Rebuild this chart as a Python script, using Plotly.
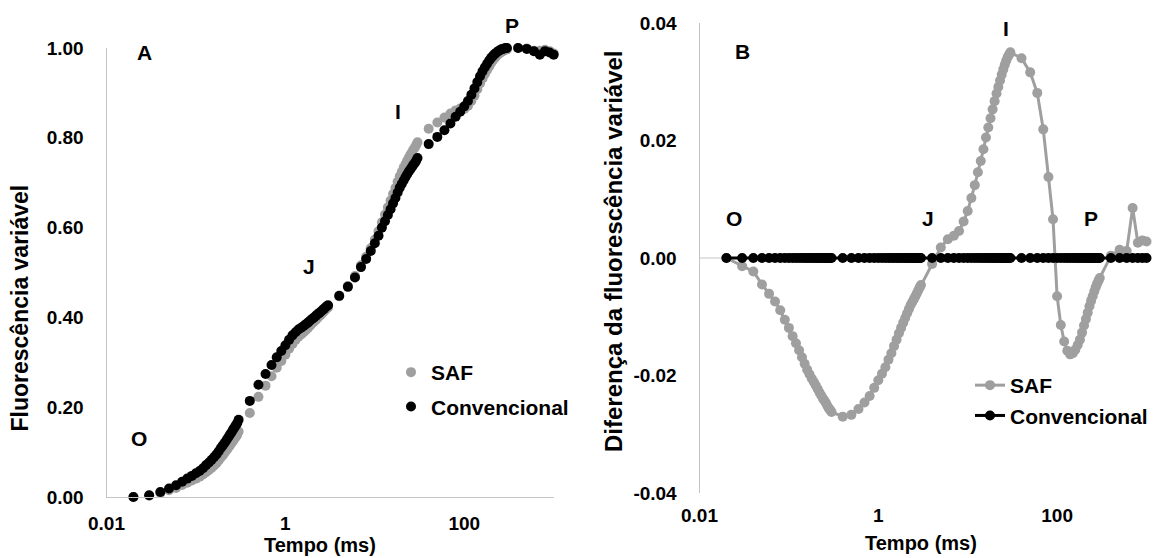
import plotly.graph_objects as go

# ---------------- data ----------------
tempo = [0.02, 0.03, 0.04, 0.05, 0.06, 0.07, 0.08, 0.09, 0.10, 0.11, 0.12, 0.13, 0.14, 0.15,
         0.16, 0.17, 0.18, 0.19, 0.20, 0.21, 0.22, 0.23, 0.24, 0.25, 0.26, 0.27, 0.28, 0.29, 0.30,
         0.4, 0.5, 0.6, 0.7, 0.8, 0.9, 1.0, 1.1, 1.2, 1.3, 1.4, 1.5, 1.6, 1.7, 1.8, 1.9, 2.0,
         2.1, 2.2, 2.3, 2.4, 2.5, 2.6, 2.7, 2.8, 2.9, 3.0,
         4, 5, 6, 7, 8, 9, 10, 11, 12, 13, 14, 15, 16, 17, 18, 19, 20, 21, 22, 23, 24, 25, 26,
         27, 28, 29, 30,
         40, 50, 60, 70, 80, 90, 100, 110, 120, 130, 140, 150, 160, 170, 180, 190, 200, 210,
         220, 230, 240, 250, 260, 270, 280, 290, 300,
         400, 500, 600, 700, 800, 900, 1000]

conv_a = [0.000, 0.004, 0.011, 0.019, 0.026, 0.034, 0.041, 0.047, 0.053, 0.058, 0.064, 0.071,
          0.077, 0.083, 0.089, 0.095, 0.102, 0.109, 0.115, 0.121, 0.127, 0.133, 0.139, 0.144,
          0.150, 0.155, 0.160, 0.165, 0.172,
          0.214, 0.250, 0.274, 0.294, 0.311, 0.325, 0.338, 0.350, 0.360, 0.367, 0.373, 0.377,
          0.381, 0.385, 0.389, 0.393, 0.397, 0.400, 0.404, 0.407, 0.410, 0.413, 0.416, 0.419,
          0.422, 0.425, 0.427,
          0.448, 0.468, 0.489, 0.512, 0.530, 0.548, 0.565, 0.582, 0.600, 0.614, 0.628, 0.641,
          0.654, 0.666, 0.678, 0.689, 0.697, 0.705, 0.712, 0.719, 0.725, 0.730, 0.735, 0.740,
          0.744, 0.749, 0.755,
          0.786, 0.802, 0.817, 0.832, 0.847, 0.858, 0.870, 0.882, 0.896, 0.910, 0.924, 0.937,
          0.948, 0.957, 0.965, 0.972, 0.978, 0.983, 0.987, 0.990, 0.993, 0.995, 0.997, 0.998,
          0.999, 1.000, 1.000,
          1.000, 0.998, 0.993, 0.985, 0.993, 0.990, 0.985]

saf_a = [0.000, 0.003, 0.009, 0.015, 0.020, 0.027, 0.032, 0.037, 0.041, 0.045, 0.050, 0.055,
         0.060, 0.065, 0.070, 0.075, 0.082, 0.088, 0.093, 0.099, 0.104, 0.110, 0.115, 0.120,
         0.125, 0.130, 0.134, 0.139, 0.146,
         0.187, 0.223, 0.248, 0.269, 0.288, 0.303, 0.317, 0.330, 0.341, 0.350, 0.357, 0.362,
         0.367, 0.372, 0.377, 0.382, 0.387, 0.391, 0.395, 0.399, 0.403, 0.406, 0.410, 0.413,
         0.417, 0.420, 0.422,
         0.447, 0.470, 0.492, 0.516, 0.535, 0.554, 0.573, 0.592, 0.612, 0.629, 0.645, 0.660,
         0.675, 0.688, 0.702, 0.714, 0.724, 0.733, 0.741, 0.749, 0.756, 0.762, 0.768, 0.774,
         0.778, 0.784, 0.790,
         0.820, 0.834, 0.845, 0.854, 0.861, 0.865, 0.864, 0.871, 0.882, 0.894, 0.908, 0.921,
         0.932, 0.942, 0.951, 0.959, 0.967, 0.973, 0.978, 0.982, 0.986, 0.989, 0.991, 0.993,
         0.995, 0.996, 0.997,
         1.000, 0.999, 0.994, 0.994, 0.996, 0.993, 0.988]

saf_diff = [0.0000, -0.0014, -0.0023, -0.0045, -0.0061, -0.0074, -0.0089, -0.0105, -0.0119,
            -0.0133, -0.0145, -0.0157, -0.0169, -0.0180, -0.0190, -0.0198, -0.0205, -0.0211,
            -0.0217, -0.0223, -0.0229, -0.0234, -0.0239, -0.0243, -0.0247, -0.0252, -0.0256,
            -0.0259, -0.0262,
            -0.0270, -0.0267, -0.0257, -0.0246, -0.0235, -0.0221, -0.0208, -0.0197, -0.0186,
            -0.0173, -0.0162, -0.0150, -0.0139, -0.0128, -0.0119, -0.0110, -0.0102, -0.0094,
            -0.0087, -0.0080, -0.0075, -0.0070, -0.0065, -0.0060, -0.0055, -0.0050, -0.0046,
            -0.0010, 0.0018, 0.0032, 0.0038, 0.0046, 0.0062, 0.0080, 0.0102, 0.0124, 0.0146,
            0.0165, 0.0185, 0.0205, 0.0222, 0.0238, 0.0253, 0.0267, 0.0280, 0.0291, 0.0302,
            0.0312, 0.0321, 0.0329, 0.0336, 0.0342, 0.0346, 0.0350,
            0.0340, 0.0316, 0.0281, 0.0219, 0.0138, 0.0066, -0.0065, -0.0114, -0.0142, -0.0158,
            -0.0164, -0.0162, -0.0156, -0.0148, -0.0139, -0.0127, -0.0115, -0.0104, -0.0093,
            -0.0082, -0.0073, -0.0065, -0.0057, -0.0050, -0.0044, -0.0039, -0.0034,
            0.0004, 0.0014, 0.0012, 0.0085, 0.0026, 0.0030, 0.0028]

conv_diff = [0.0, 0.0, 0.0, 0.0, 0.0, 0.0, 0.0, 0.0, 0.0, 0.0, 0.0, 0.0, 0.0, 0.0, 0.0,
             0.0, 0.0, 0.0, 0.0, 0.0, 0.0, 0.0, 0.0, 0.0, 0.0, 0.0, 0.0, 0.0, 0.0,
             0.0, 0.0, 0.0, 0.0, 0.0, 0.0, 0.0, 0.0, 0.0, 0.0, 0.0, 0.0, 0.0, 0.0, 0.0,
             0.0, 0.0, 0.0, 0.0, 0.0, 0.0, 0.0, 0.0, 0.0, 0.0, 0.0, 0.0,
             0.0, 0.0, 0.0, 0.0, 0.0, 0.0, 0.0, 0.0, 0.0, 0.0, 0.0, 0.0, 0.0, 0.0,
             0.0, 0.0, 0.0, 0.0, 0.0, 0.0, 0.0, 0.0, 0.0, 0.0, 0.0, 0.0, 0.0,
             0.0, 0.0, 0.0, 0.0, 0.0, 0.0, 0.0, 0.0, 0.0, 0.0, 0.0, 0.0, 0.0, 0.0,
             0.0, 0.0, 0.0, 0.0, 0.0, 0.0, 0.0, 0.0, 0.0, 0.0, 0.0, 0.0, 0.0,
             0.0, 0.0, 0.0, 0.0, 0.0, 0.0, 0.0]

x_tickvals = [0.01, 1, 100]
x_ticktext = ["0.01", "1", "100"]
ya_tickvals = [0.0, 0.2, 0.4, 0.6, 0.8, 1.0]
ya_ticktext = ["0.00", "0.20", "0.40", "0.60", "0.80", "1.00"]
yb_tickvals = [-0.04, -0.02, 0.0, 0.02, 0.04]
yb_ticktext = ["-0.04", "-0.02", "0.00", "0.02", "0.04"]

# ---------------- style ----------------
FONT = "Liberation Sans, Arial, Helvetica, sans-serif"
GRAY = "#9f9f9f"
AXIS = "#c4c4c4"
W, H = 1154, 558

def px(x):
    return x / W

def py(y):
    return 1 - y / H

fig = go.Figure()

fig.add_trace(go.Scatter(x=tempo, y=saf_a, mode="markers", name="SAF",
                         marker=dict(color=GRAY, size=10), xaxis="x", yaxis="y",
                         legend="legend", legendgroup="a1", cliponaxis=False))
fig.add_trace(go.Scatter(x=tempo, y=conv_a, mode="markers", name="Convencional",
                         marker=dict(color="black", size=10), xaxis="x", yaxis="y",
                         legend="legend", legendgroup="a2", cliponaxis=False))
fig.add_trace(go.Scatter(x=tempo, y=saf_diff, mode="lines+markers", name="SAF",
                         line=dict(color=GRAY, width=3), marker=dict(color=GRAY, size=10),
                         xaxis="x2", yaxis="y2", legend="legend2", legendgroup="b1",
                         cliponaxis=False))
fig.add_trace(go.Scatter(x=tempo, y=conv_diff, mode="lines+markers", name="Convencional",
                         line=dict(color="black", width=3), marker=dict(color="black", size=10),
                         xaxis="x2", yaxis="y2", legend="legend2", legendgroup="b2",
                         cliponaxis=False))

tickfont = dict(family=FONT, size=19, color="black", weight="bold")

common_x = dict(type="log", range=[-2, 3], tickmode="array", tickvals=x_tickvals,
                ticktext=x_ticktext, showgrid=False, zeroline=False, ticks="",
                tickfont=tickfont, automargin=False, ticklabelstandoff=9)
common_y = dict(showgrid=False, zeroline=False, ticks="", tickfont=tickfont,
                automargin=False, showline=True, linecolor=AXIS, linewidth=1,
                ticklabelstandoff=18, tickmode="array")

fig.update_layout(
    width=W, height=H,
    template="none",
    margin=dict(l=0, r=0, t=0, b=0),
    paper_bgcolor="white", plot_bgcolor="white",
    font=dict(family=FONT, color="black"),
    xaxis=dict(domain=[px(106.5), px(553.7)], anchor="y", showline=True,
               linecolor=AXIS, linewidth=1, **common_x),
    yaxis=dict(domain=[py(497), py(48)], anchor="x", range=[0, 1],
               tickvals=ya_tickvals, ticktext=ya_ticktext, **common_y),
    xaxis2=dict(domain=[px(699.5), px(1146.5)], anchor="y2", showline=False, **common_x),
    yaxis2=dict(domain=[py(493), py(23)], anchor="x2", range=[-0.04, 0.04],
                tickvals=yb_tickvals, ticktext=yb_ticktext, **common_y),
    legend=dict(x=px(391), y=py(352), xanchor="left", yanchor="top",
                bgcolor="rgba(0,0,0,0)", borderwidth=0, traceorder="grouped",
                tracegroupgap=4, font=dict(family=FONT, size=21, color="black", weight="bold")),
    legend2=dict(x=px(970), y=py(365), xanchor="left", yanchor="top",
                 bgcolor="rgba(0,0,0,0)", borderwidth=0, traceorder="grouped",
                 tracegroupgap=0, font=dict(family=FONT, size=21, color="black", weight="bold")),
    shapes=[dict(type="line", xref="x2 domain", x0=0, x1=1, yref="y2", y0=0, y1=0,
                 line=dict(color=AXIS, width=1), layer="below")],
)

labels = [
    ("A", 144.3, 52.7), ("P", 512.4, 25), ("I", 397.7, 111.7), ("J", 309, 266.7),
    ("O", 138.7, 438.3),
    ("B", 742.9, 51.7), ("I", 1006.4, 28.3), ("O", 733.7, 218.3), ("J", 927.7, 218.3),
    ("P", 1090.6, 218.3),
]
annotations = []
for text, x, y in labels:
    annotations.append(dict(text="<b>%s</b>" % text, x=px(x), y=py(y), xref="paper",
                            yref="paper", xanchor="center", yanchor="middle", showarrow=False,
                            font=dict(family=FONT, size=21, color="black")))

annotations += [
    dict(text="<b>Tempo (ms)</b>", x=px(320), y=py(545), xref="paper", yref="paper",
         xanchor="center", yanchor="middle", showarrow=False,
         font=dict(family=FONT, size=20, color="black")),
    dict(text="<b>Tempo (ms)</b>", x=px(921), y=py(543), xref="paper", yref="paper",
         xanchor="center", yanchor="middle", showarrow=False,
         font=dict(family=FONT, size=20, color="black")),
    dict(text="<b>Fluorescência variável</b>", x=px(19.5), y=py(308), xref="paper",
         yref="paper", xanchor="center", yanchor="middle", showarrow=False, textangle=-90,
         font=dict(family=FONT, size=23, color="black")),
    dict(text="<b>Diferença da fluorescência variável</b>", x=px(614), y=py(251),
         xref="paper", yref="paper", xanchor="center", yanchor="middle", showarrow=False,
         textangle=-90, font=dict(family=FONT, size=24, color="black")),
]
fig.update_layout(annotations=annotations)

fig.write_html("out.html")
